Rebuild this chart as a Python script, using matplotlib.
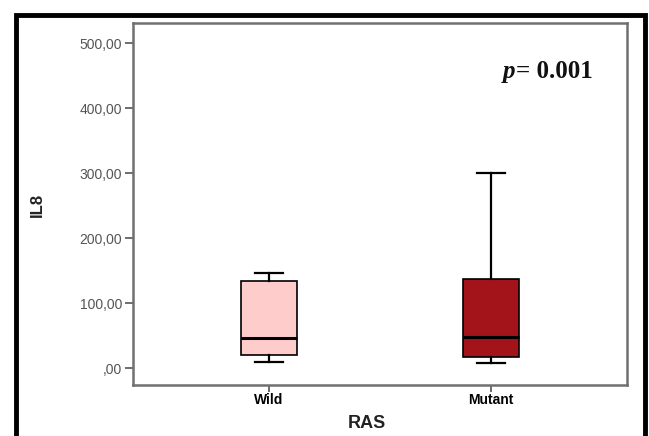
import matplotlib
matplotlib.use("Agg")
import matplotlib.pyplot as plt
from matplotlib.patches import Rectangle

groups = ["Wild", "Mutant"]
whisker_low = [9.2, 8.2]
q1 = [20.5, 16.4]
medians = [45.7, 48.0]
q3 = [134.0, 137.0]
whisker_high = [145.7, 299.5]
box_colors = ["#FFCCCC", "#A3141A"]
yticks = [0, 100, 200, 300, 400, 500]
ytick_labels = [",00", "100,00", "200,00", "300,00", "400,00", "500,00"]

W, H = 649, 436
fig = plt.figure(figsize=(W / 100, H / 100), dpi=100)

# outer black frame (open at the bottom)
fig.add_artist(Rectangle((16 / W, -0.05), (645 - 16) / W, 1.05 - 14.5 / H,
                         transform=fig.transFigure, fill=False,
                         edgecolor="black", linewidth=3.5))

ax = fig.add_axes([133 / W, 1 - 385 / H, (627 - 133) / W, (385 - 23) / H])

stats = []
for i, g in enumerate(groups):
    stats.append(dict(label=g, whislo=whisker_low[i], q1=q1[i], med=medians[i],
                      q3=q3[i], whishi=whisker_high[i], fliers=[]))

bp = ax.bxp(stats, positions=[1, 2], widths=0.252, patch_artist=True,
            showfliers=False,
            medianprops=dict(color="black", linewidth=2.2),
            whiskerprops=dict(color="black", linewidth=1.6),
            capprops=dict(color="black", linewidth=1.6),
            boxprops=dict(edgecolor="black", linewidth=1.2),
            capwidths=0.125)
for patch, c in zip(bp["boxes"], box_colors):
    patch.set_facecolor(c)

ax.set_xlim(0.387, 2.613)
ax.set_ylim(-26, 531)
ax.set_yticks(yticks)
ax.set_yticklabels(ytick_labels, color="#555555", fontsize=10,
                   family="Liberation Sans")
ax.set_xticks([1, 2])
ax.set_xticklabels(groups, fontsize=10, fontweight="bold", family="Liberation Sans")
ax.tick_params(axis="y", length=6, width=1.2, color="#555555", pad=2)
ax.tick_params(axis="x", length=5, width=1.2, color="#555555", pad=1)

for s in ax.spines.values():
    s.set_color("#707070")
    s.set_linewidth(1.8)

fig.text(37 / W, 1 - 205 / H, "IL8", rotation=90, ha="center", va="center",
         fontsize=12, fontweight="bold", family="Liberation Sans", color="#222222")
fig.text(367 / W, 1 - 423 / H, "RAS", ha="center", va="center",
         fontsize=13, fontweight="bold", family="Liberation Sans", color="#222222")

fig.text(503 / W, 1 - 78 / H, "p", ha="left", va="baseline", fontsize=18,
         fontweight="bold", fontstyle="italic", family="Liberation Serif",
         color="#111111")
fig.text(516 / W, 1 - 78 / H, "= 0.001", ha="left", va="baseline", fontsize=18,
         fontweight="bold", family="Liberation Serif", color="#111111")

fig.savefig("out.png", dpi=100)
